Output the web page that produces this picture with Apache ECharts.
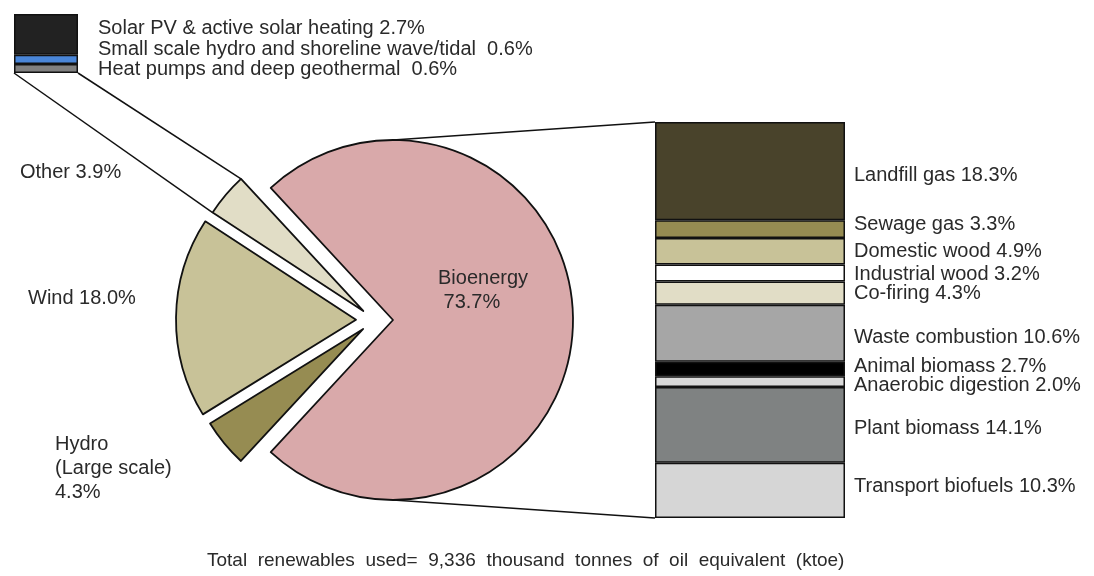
<!DOCTYPE html>
<html>
<head>
<meta charset="utf-8">
<script src="https://cdn.jsdelivr.net/npm/echarts@6.0.0/dist/echarts.min.js"></script>
<style>
  html, body { margin: 0; padding: 0; background: #ffffff; }
  #chart { width: 1094px; height: 576px; }
</style>
</head>
<body>
<div id="chart"></div>
<script>
// Renewable energy use by source: pie of the main sources,
// with the Bioenergy share broken down in a stacked bar on the right
// and the "Other" share broken down in a small stacked bar top-left.

const pieNames = ['Bioenergy', 'Hydro\n(Large scale)', 'Wind', 'Other'];
const pieValues = [73.7, 4.3, 18.0, 3.9];
const pieColors = ['#d9a9aa', '#968c52', '#c8c298', '#e1ddc6'];

const bioNames = ['Landfill gas', 'Sewage gas', 'Domestic wood', 'Industrial wood', 'Co-firing',
  'Waste combustion', 'Animal biomass', 'Anaerobic digestion', 'Plant biomass', 'Transport biofuels'];
const bioValues = [18.3, 3.3, 4.9, 3.2, 4.3, 10.6, 2.7, 2.0, 14.1, 10.3];
const bioColors = ['#49432b', '#968c52', '#c8c298', '#ffffff', '#e1ddc6',
  '#a6a6a6', '#000000', '#d9d9d9', '#7f8282', '#d6d6d6'];

const otherNames = ['Solar PV & active solar heating', 'Small scale hydro and shoreline wave/tidal', 'Heat pumps and deep geothermal'];
const otherValues = [2.7, 0.6, 0.6];
const otherColors = ['#222222', '#4a86d8', '#808080'];

const footnote = 'Total  renewables  used=  9,336  thousand  tonnes  of  oil  equivalent  (ktoe)';

// ---- layout / styling ----
const FONT = '"Liberation Sans", Arial, sans-serif';
const TEXT = '#2a2a2a';
const EDGE = '#111111';

const PIE_C = [374, 320];
const PIE_R = 180;
const explode = [19, 14, 18, 14];
const pieLabelPos = [[438, 290], [55, 468], [28, 298], [20, 172]];
const pieLabelSep = ['\n ', '\n', ' ', ' '];

const BIO_GRID = { left: 655, top: 122, width: 190, height: 396 };
const OTH_GRID = { left: 14, top: 14, width: 64, height: 59 };
const bioLabelDy = [4, -5, 0, 1, 0, 4, -2, 4, 4, -4];
const othLabelDy = [-6, -10, 1];
const othLabelSep = [' ', '  ', '  '];

const sum = a => a.reduce((s, v) => s + v, 0);
const rad = d => d * Math.PI / 180;

const pieTotal = sum(pieValues);
const startAngle = pieValues[0] / pieTotal * 180;   // centre the Bioenergy slice on the right
let acc = startAngle;
const sliceSpans = [];
const sliceMids = [];
pieValues.forEach(v => {
  const span = v / pieTotal * 360;
  sliceSpans.push([acc, acc - span]);
  sliceMids.push(acc - span / 2);
  acc -= span;
});
const sliceCenters = sliceMids.map((m, i) => [
  PIE_C[0] + explode[i] * Math.cos(rad(m)),
  PIE_C[1] - explode[i] * Math.sin(rad(m))
]);
const onArc = (c, ang) => [c[0] + PIE_R * Math.cos(rad(ang)), c[1] - PIE_R * Math.sin(rad(ang))];

const textStyle = { fontFamily: FONT, fontSize: 20, color: TEXT, lineHeight: 24 };

// one pie series per slice so that each slice can be pulled out on its own
const pieSeries = pieValues.map((_, i) => ({
  type: 'pie',
  center: sliceCenters[i],
  radius: PIE_R,
  startAngle: startAngle,
  clockwise: true,
  silent: true,
  animation: false,
  avoidLabelOverlap: false,
  labelLine: { show: false },
  emphasis: { disabled: true },
  data: pieValues.map((v, j) => ({
    value: v,
    name: pieNames[j],
    itemStyle: j === i
      ? { color: pieColors[j], borderColor: EDGE, borderWidth: 1.8 }
      : { color: 'rgba(0,0,0,0)', borderWidth: 0 },
    label: j === i
      ? Object.assign({ show: true, position: 'outside',
          formatter: p => p.name + pieLabelSep[j] + p.value.toFixed(1) + '%' }, textStyle)
      : { show: false }
  })),
  labelLayout: () => ({ x: pieLabelPos[i][0], y: pieLabelPos[i][1], align: 'left', verticalAlign: 'middle' })
}));

const bioSeries = bioNames.map((n, k) => ({
  type: 'bar',
  name: n,
  stack: 'bio',
  xAxisIndex: 0,
  yAxisIndex: 0,
  barWidth: '100%',
  silent: true,
  animation: false,
  data: [bioValues[k]],
  itemStyle: { color: bioColors[k], borderColor: EDGE, borderWidth: 1.5 },
  label: Object.assign({
    show: true, position: 'right', distance: 9, offset: [0, bioLabelDy[k]],
    formatter: p => p.seriesName + ' ' + p.value.toFixed(1) + '%'
  }, textStyle)
}));

const othSeries = otherNames.map((n, k) => ({
  type: 'bar',
  name: n,
  stack: 'other',
  xAxisIndex: 1,
  yAxisIndex: 1,
  barWidth: '100%',
  silent: true,
  animation: false,
  data: [otherValues[k]],
  itemStyle: { color: otherColors[k], borderColor: EDGE, borderWidth: 1.5 },
  label: Object.assign({
    show: true, position: 'right', distance: 20, offset: [0, othLabelDy[k]],
    formatter: p => p.seriesName + othLabelSep[k] + p.value.toFixed(1) + '%'
  }, textStyle)
}));

// connector lines between the pie slices and their breakdown bars
const bioTop = onArc(sliceCenters[0], 90);
const bioBottom = onArc(sliceCenters[0], -90);
const othLower = onArc(sliceCenters[3], sliceSpans[3][0]);   // left / lower corner of "Other"
const othUpper = onArc(sliceCenters[3], sliceSpans[3][1]);   // right / upper corner of "Other"
const lineStyle = { stroke: EDGE, lineWidth: 1.5 };
const connectors = [
  [bioTop, [BIO_GRID.left, BIO_GRID.top]],
  [bioBottom, [BIO_GRID.left, BIO_GRID.top + BIO_GRID.height]],
  [othUpper, [OTH_GRID.left + OTH_GRID.width, OTH_GRID.top + OTH_GRID.height]],
  [othLower, [OTH_GRID.left, OTH_GRID.top + OTH_GRID.height]]
].map(([a, b]) => ({
  type: 'line', silent: true, z: 1,
  shape: { x1: a[0], y1: a[1], x2: b[0], y2: b[1] },
  style: lineStyle
}));

const chart = echarts.init(document.getElementById('chart'), null, { renderer: 'canvas' });
chart.setOption({
  backgroundColor: '#ffffff',
  animation: false,
  grid: [
    Object.assign({ containLabel: false }, BIO_GRID),
    Object.assign({ containLabel: false }, OTH_GRID)
  ],
  xAxis: [
    { type: 'category', gridIndex: 0, data: ['Bioenergy'], show: false },
    { type: 'category', gridIndex: 1, data: ['Other'], show: false }
  ],
  yAxis: [
    { type: 'value', gridIndex: 0, inverse: true, min: 0, max: sum(bioValues), show: false },
    { type: 'value', gridIndex: 1, inverse: true, min: 0, max: sum(otherValues), show: false }
  ],
  graphic: connectors.concat([{
    type: 'text', left: 207, top: 551, silent: true,
    style: { text: footnote, font: '19px ' + FONT, fill: TEXT }
  }]),
  series: pieSeries.concat(bioSeries, othSeries)
});
</script>
</body>
</html>
